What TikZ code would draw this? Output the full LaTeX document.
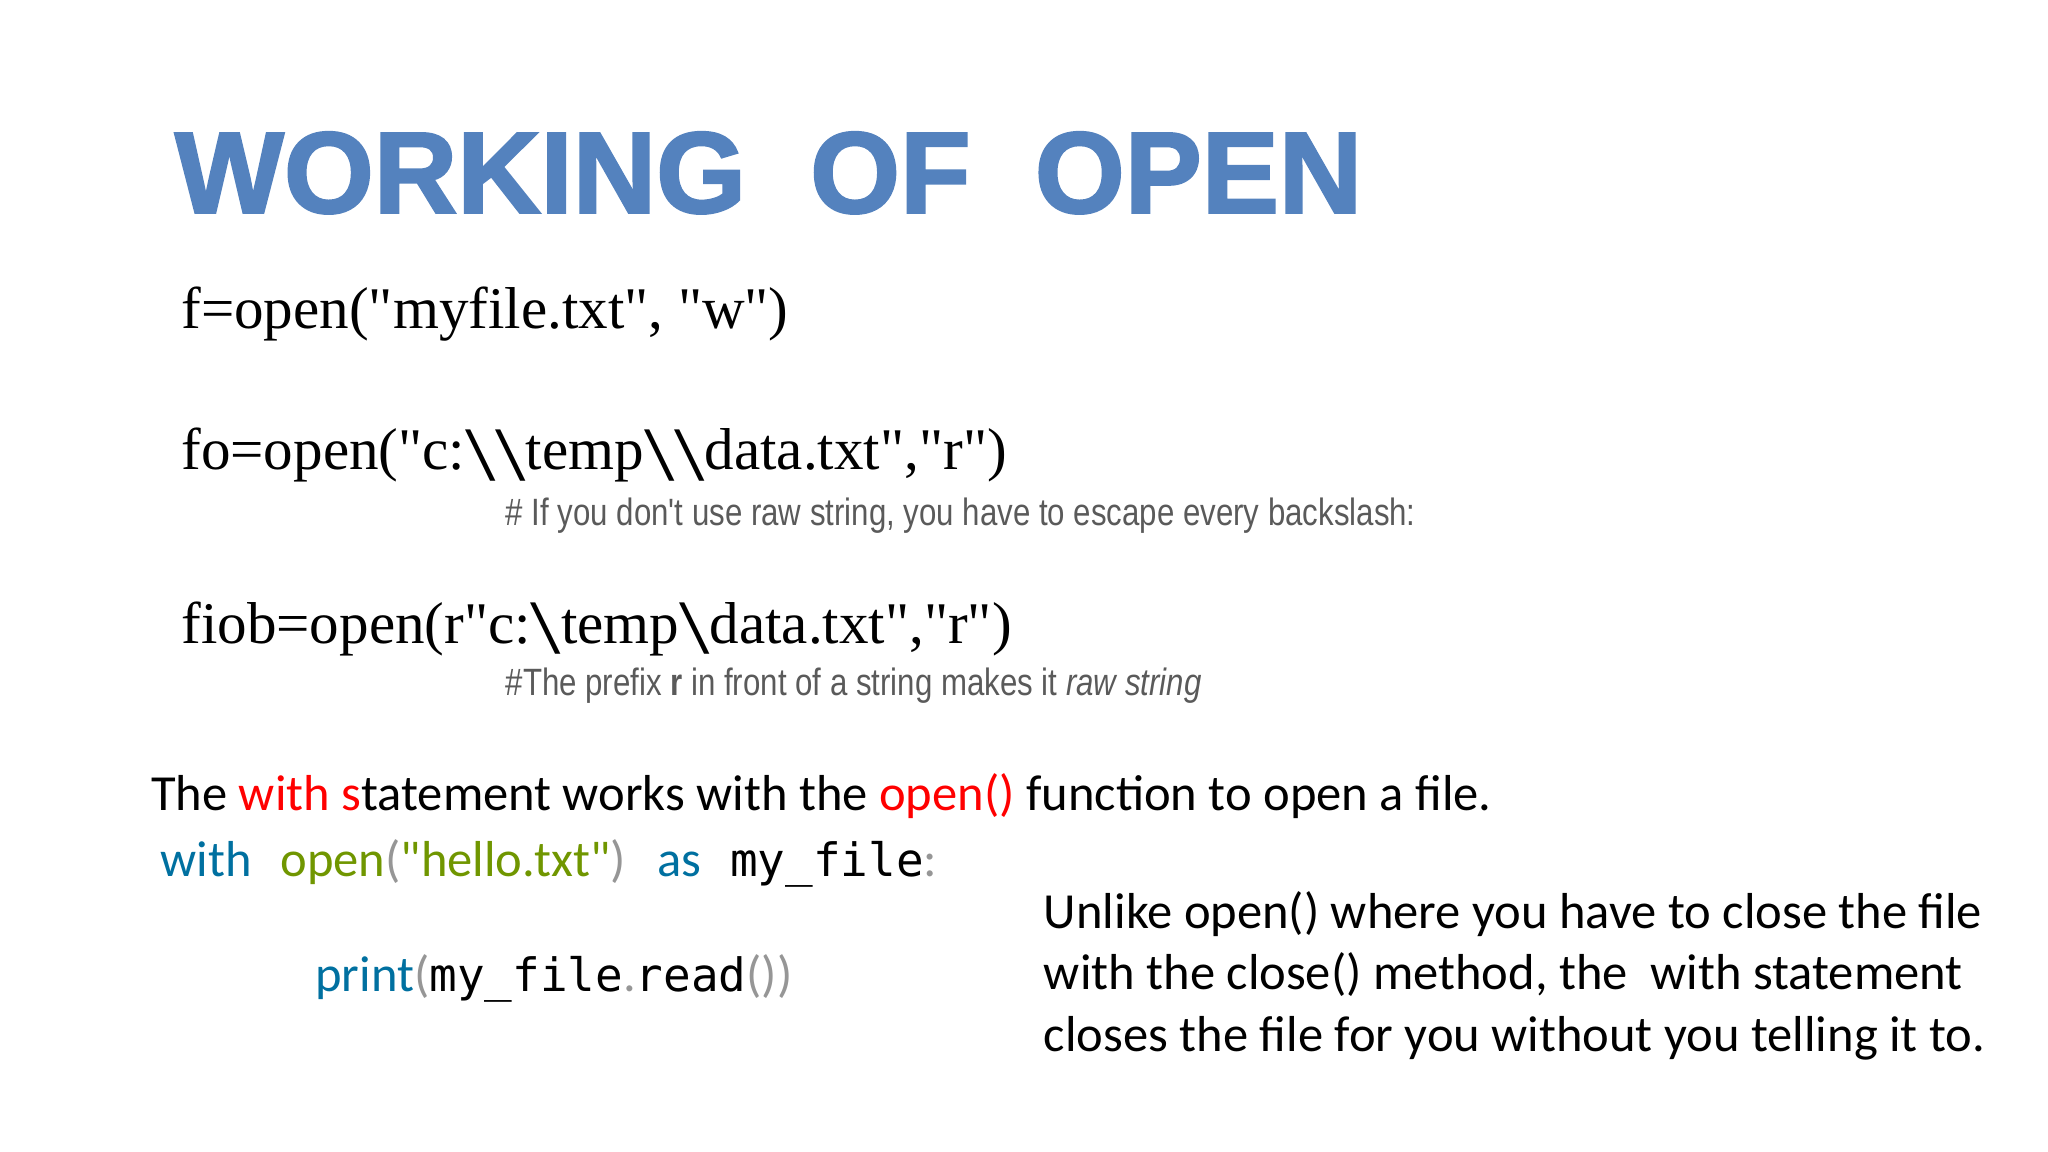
\documentclass[tikz,border=0pt]{standalone}
\usepackage{fontspec}
\usepackage{graphicx}
\setmainfont{Liberation Serif}
\newfontfamily\calib{Carlito}
\newfontfamily\narrowsans[FakeStretch=0.82]{Liberation Sans}
\newfontfamily\titlefont[FakeBold=2]{Liberation Sans Bold}
\newfontfamily\monof{DejaVu Sans Mono}
\newcommand{\qq}{\textquotedbl}
\newcommand{\bs}{\raisebox{-0.17em}{\scalebox{1.85}[1.3]{\textbackslash}}}
\definecolor{titleblue}{RGB}{84,130,190}
\definecolor{cmt}{RGB}{90,90,90}
\definecolor{kwblue}{RGB}{0,112,160}
\definecolor{strgreen}{RGB}{112,150,0}
\definecolor{pgray}{RGB}{150,150,150}
\begin{document}
\begin{tikzpicture}[x=1pt,y=-1pt,every node/.style={inner sep=0pt,anchor=base west}]
\useasboundingbox (0,0) rectangle (1560,877.5);
\tikzset{codeline/.style={font=\fontsize{45}{50}\selectfont},
 cmtline/.style={font=\narrowsans\fontsize{29}{30}\selectfont,text=cmt},
 body/.style={font=\calib\fontsize{38.5}{42}\selectfont}}
\newcommand{\mf}[1]{{\monof\fontsize{35}{36}\selectfont #1}}
\node[font=\titlefont\fontsize{88}{90}\selectfont,text=titleblue] (title) at (133,162) {WORKING\ \ OF\ \ OPEN};
\node[codeline] (l1) at (138,250) {f=open(\qq myfile.txt\qq, \qq w\qq)};
\node[codeline] (l2) at (138,358) {fo=open(\qq c:\bs\bs temp\bs\bs data.txt\qq,\qq r\qq)};
\node[cmtline] (c1) at (385,400) {\# If you don't use raw string, you have to escape every backslash:};
\node[codeline] (l3) at (138,490) {fiob=open(r\qq c:\bs temp\bs data.txt\qq,\qq r\qq)};
\node[cmtline] (c2) at (385,530) {\#The prefix \textbf{r} in front of a string makes it \textit{raw string}};
\node[body] (s1) at (115,617) {The \textcolor{red}{with s}tatement works with the \textcolor{red}{open()} function to open a file.};
\node[body] (s2) at (122,668) {\textcolor{kwblue}{with}\hspace{22pt}\textcolor{strgreen}{open}\textcolor{pgray}{(}\textcolor{strgreen}{\qq hello.txt\qq}\textcolor{pgray}{)}\hspace{24pt}\textcolor{kwblue}{as}\hspace{22pt}\mf{my\_file}\textcolor{pgray}{:}};
\node[body] (s3) at (240,755) {\textcolor{kwblue}{print}\textcolor{pgray}{(}\mf{my\_file}\textcolor{pgray}{.}\mf{read}\textcolor{pgray}{())}};
\node[body] (p1) at (795,707) {Unlike open() where you have to close the file};
\node[body] (p2) at (795,754) {with the close() method, the\ \ with statement};
\node[body] (p3) at (795,801) {closes the file for you without you telling it to.};
\end{tikzpicture}
\end{document}
